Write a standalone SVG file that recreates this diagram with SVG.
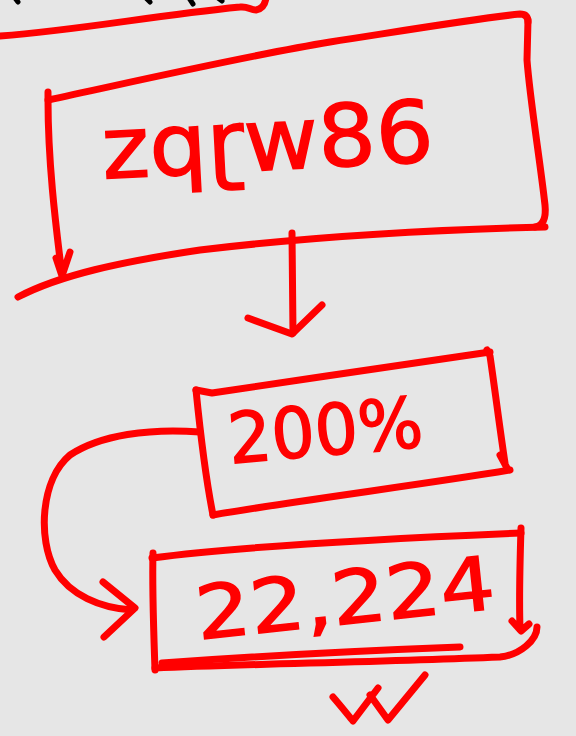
<svg xmlns="http://www.w3.org/2000/svg" width="576" height="736" viewBox="0 0 576 736">
<style>
.ink{fill:none;stroke:#ff0000;stroke-width:7;stroke-linecap:round;stroke-linejoin:round}
.blk{fill:none;stroke:#000;stroke-width:5;stroke-linecap:round}
.lbl{fill:#ff0000;stroke:#ff0000;stroke-width:1.5;font-family:"DejaVu Sans","Noto Sans",sans-serif}
</style>
<rect x="0" y="0" width="576" height="736" fill="#e6e6e6"/>
<g id="top-marks">
<path class="blk" d="M15,-2 L18,2 M146,-2 L150,2 M189,-2 L193,4 M218,-2 L222,1"/>
<path class="ink" d="M0,36 C80,30 150,16 240,7 C248,6 250,10 256,10 C262,9 265,5 266,-2"/>
</g>
<g id="node-top">
<path class="ink" d="M48,92 L48,100 C150,78 250,55 330,42 C420,28 480,18 520,14 Q528,14 528,22"/>
<path class="ink" d="M528,20 L527,60 C530,100 540,160 545,205 Q547,225 535,227"/>
<path class="ink" d="M545,227 C420,230 300,238 200,250 C120,262 60,275 18,297"/>
<path class="ink" d="M48,100 C48,160 55,220 62,275 M56,258 L62,276 L70,252"/>
<text class="lbl" x="268" y="170" font-size="86" text-anchor="middle" textLength="332" lengthAdjust="spacingAndGlyphs" transform="rotate(-3 268 150)">zqɽw86</text>
</g>
<g id="node-200">
<path class="ink" d="M196,390 L212,393 C300,380 420,362 490,352"/>
<path class="ink" d="M487,350 L490,356 C495,390 500,430 505,463 M500,455 L507,468"/>
<path class="ink" d="M510,470 C420,485 300,500 213,515"/>
<path class="ink" d="M196,390 C200,430 206,480 213,515"/>
<text class="lbl" x="325" y="455" font-size="70" text-anchor="middle" textLength="195" lengthAdjust="spacingAndGlyphs" transform="rotate(-5 325 428)">200%</text>
</g>
<g id="node-22224">
<path class="ink" d="M152,558 C250,545 400,538 521,533"/>
<path class="ink" d="M521,528 C520,560 519,600 520,628 M512,621 L521,631 L529,624"/>
<path class="ink" d="M537,627 C537,640 520,655 500,657 C380,662 250,664 155,668"/>
<path class="ink" d="M162,663 C260,656 380,650 460,647"/>
<path class="ink" d="M153,553 C152,590 154,640 155,670"/>
<text class="lbl" x="345" y="624" font-size="74" text-anchor="middle" textLength="300" lengthAdjust="spacingAndGlyphs" transform="rotate(-6 345 598)">22,224</text>
</g>
<g id="mark">
<path class="ink" d="M333,697 C340,705 348,715 353,721 L378,688 M370,695 L388,720 L425,675"/>
</g>
<g id="connectors">
<path class="ink" d="M292,233 L293,333"/>
<path class="ink" d="M248,318 L292,334 L322,305"/>
<path class="ink" d="M200,432 C150,428 100,435 70,455 C40,480 38,540 55,570 C70,595 100,608 132,610"/>
<path class="ink" d="M103,582 L135,608 L104,637"/>
</g>
</svg>
